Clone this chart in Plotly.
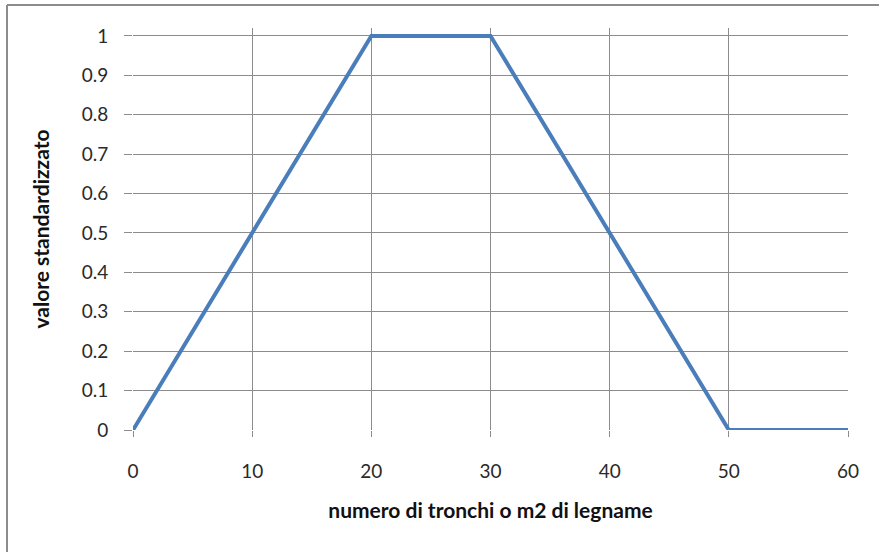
import plotly.graph_objects as go

# valori
numero_tronchi = [0, 20, 30, 50, 60]
valore_standardizzato = [0, 1, 1, 0, 0]

tick_x = [0, 10, 20, 30, 40, 50, 60]
tick_y = [0, 0.1, 0.2, 0.3, 0.4, 0.5, 0.6, 0.7, 0.8, 0.9, 1]
etichette_y = ["0", "0.1", "0.2", "0.3", "0.4", "0.5", "0.6", "0.7", "0.8", "0.9", "1"]

L, R, T, B = 133, 31, 28, 122
W, H = 879, 552
larg = W - L - R
alt = H - T - B

fig = go.Figure()

fig.add_trace(go.Scatter(
    x=numero_tronchi,
    y=valore_standardizzato,
    mode="lines",
    line=dict(color="#4a7ebb", width=4),
    showlegend=False,
))

fig.update_layout(
    width=W,
    height=H,
    paper_bgcolor="white",
    plot_bgcolor="white",
    margin=dict(l=L, r=R, t=T, b=B),
    font=dict(family="Lato, Open Sans, sans-serif", size=19, color="#2a2a2a"),
    xaxis=dict(
        range=[0, 60],
        tickvals=tick_x,
        showgrid=True,
        gridcolor="#8c8c8c",
        gridwidth=1,
        ticks="outside",
        ticklen=6,
        tickcolor="#8c8c8c",
        ticklabelstandoff=18,
        showline=False,
        zeroline=False,
        title=dict(text="<b>numero di tronchi o m2 di legname</b>",
                   font=dict(size=21, color="#111111"), standoff=22),
    ),
    yaxis=dict(
        range=[0, 1.02],
        tickvals=tick_y,
        ticktext=etichette_y,
        showgrid=True,
        gridcolor="#8c8c8c",
        gridwidth=1,
        ticks="outside",
        ticklen=8,
        tickcolor="#8c8c8c",
        ticklabelstandoff=12,
        showline=False,
        zeroline=False,
        title=dict(text="<b>valore standardizzato</b>",
                   font=dict(size=21, color="#111111"), standoff=26),
    ),
)

# cornice esterna (solo lati superiore e sinistro visibili)
y_cornice = (alt + T - 5) / alt
x_cornice = (7 - L) / larg
fig.add_shape(type="line", xref="paper", yref="paper",
              x0=x_cornice, x1=1 + R / larg, y0=y_cornice, y1=y_cornice,
              line=dict(color="#8c8c8c", width=2))
fig.add_shape(type="line", xref="paper", yref="paper",
              x0=x_cornice, x1=x_cornice, y0=y_cornice, y1=-B / alt,
              line=dict(color="#8c8c8c", width=2))

fig.write_html("out.html", config={"displayModeBar": False},
               post_script="document.body.style.margin='0';")
